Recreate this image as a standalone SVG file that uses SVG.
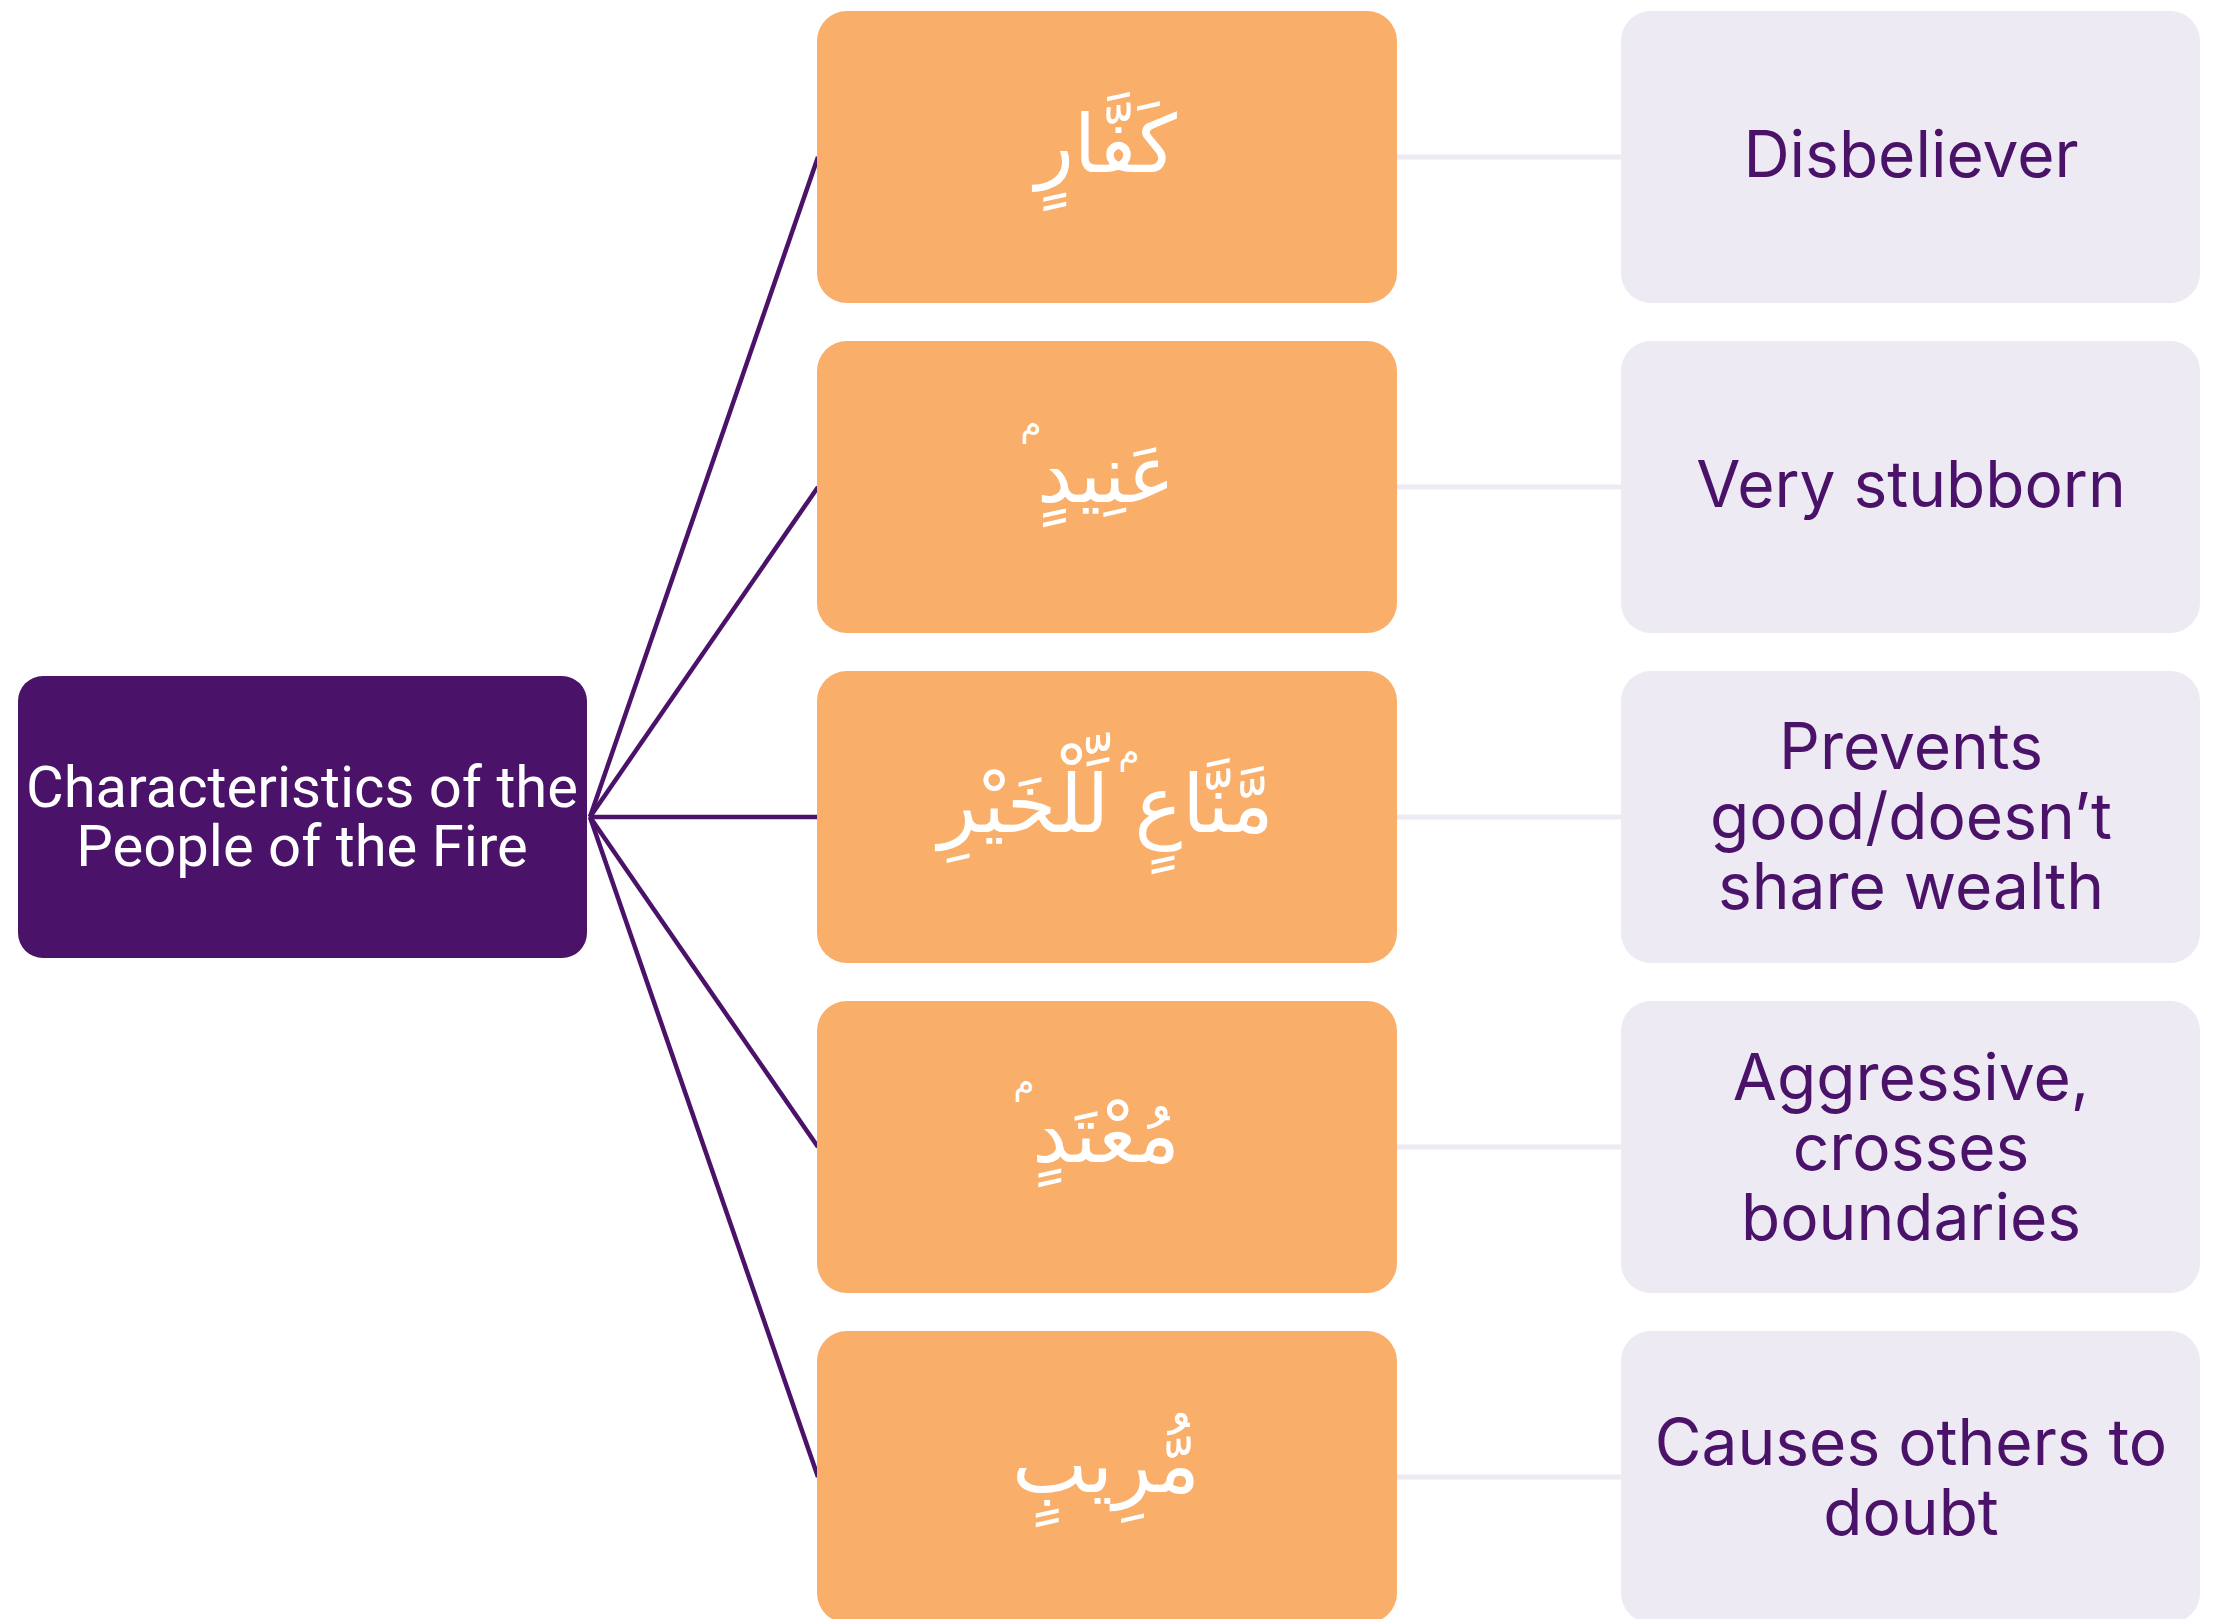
<svg xmlns="http://www.w3.org/2000/svg" width="2220" height="1619" viewBox="0 0 2220 1619">
<style>
.root{fill:#4A1268}
.ar{fill:#F9AE6A}
.en{fill:#EDEAF4}
.rt{font-family:Roboto,"Liberation Sans",sans-serif;font-size:58px;fill:#FFFFFF;text-anchor:middle}
.at{font-family:"DejaVu Sans","Noto Sans",sans-serif;font-size:80px;fill:#FFFFFF;text-anchor:middle}
.sm{font-family:"DejaVu Sans","Noto Sans",sans-serif;font-size:34px;fill:#FFFFFF;text-anchor:middle}
.et{font-family:Inter,"Liberation Sans",sans-serif;font-size:64px;fill:#4A1268;text-anchor:middle}
.c1{stroke:#4A1268;stroke-width:4.5;fill:none}
.c2{stroke:#EDEAF4;stroke-width:5;fill:none}
</style>
<rect width="2220" height="1619" fill="#FFFFFF"/>
<g id="connectors">
<line class="c1" x1="590" y1="817" x2="818" y2="157"/>
<line class="c1" x1="590" y1="817" x2="818" y2="487"/>
<line class="c1" x1="590" y1="817" x2="818" y2="817"/>
<line class="c1" x1="590" y1="817" x2="818" y2="1147"/>
<line class="c1" x1="590" y1="817" x2="818" y2="1477"/>
<line class="c2" x1="1396" y1="157" x2="1622" y2="157"/>
<line class="c2" x1="1396" y1="487" x2="1622" y2="487"/>
<line class="c2" x1="1396" y1="817" x2="1622" y2="817"/>
<line class="c2" x1="1396" y1="1147" x2="1622" y2="1147"/>
<line class="c2" x1="1396" y1="1477" x2="1622" y2="1477"/>
</g>
<g id="root">
<rect class="root" x="18" y="676" width="569" height="282" rx="25"/>
<text class="rt" x="302" y="807">Characteristics of the</text>
<text class="rt" x="302" y="866">People of the Fire</text>
</g>
<g id="ar1"><rect class="ar" x="817" y="11" width="580" height="292" rx="30"/><text class="at" x="1106" y="172" direction="rtl">كَفَّارٍ</text></g>
<g id="ar2"><rect class="ar" x="817" y="341" width="580" height="292" rx="30"/><text class="at" x="1106" y="502" direction="rtl">عَنِيدٍ</text><text class="sm" x="1031" y="436">م</text></g>
<g id="ar3"><rect class="ar" x="817" y="671" width="580" height="292" rx="30"/><text class="at" x="1106" y="832" direction="rtl">مَّنَّاعٍ لِّلْخَيْرِ</text><text class="sm" x="1129" y="764">م</text></g>
<g id="ar4"><rect class="ar" x="817" y="1001" width="580" height="292" rx="30"/><text class="at" x="1106" y="1162" direction="rtl">مُعْتَدٍ</text><text class="sm" x="1024" y="1094">م</text></g>
<g id="ar5"><rect class="ar" x="817" y="1331" width="580" height="292" rx="30"/><text class="at" x="1106" y="1492" direction="rtl">مُّرِيبٍ</text></g>
<g id="en1"><rect class="en" x="1621" y="11" width="579" height="292" rx="30"/><text class="et" x="1911" y="177">Disbeliever</text></g>
<g id="en2"><rect class="en" x="1621" y="341" width="579" height="292" rx="30"/><text class="et" x="1911" y="507">Very stubborn</text></g>
<g id="en3"><rect class="en" x="1621" y="671" width="579" height="292" rx="30"/><text class="et" x="1911" y="769">Prevents</text><text class="et" x="1911" y="839">good/doesn’t</text><text class="et" x="1911" y="909">share wealth</text></g>
<g id="en4"><rect class="en" x="1621" y="1001" width="579" height="292" rx="30"/><text class="et" x="1911" y="1100">Aggressive,</text><text class="et" x="1911" y="1170">crosses</text><text class="et" x="1911" y="1240">boundaries</text></g>
<g id="en5"><rect class="en" x="1621" y="1331" width="579" height="292" rx="30"/><text class="et" x="1911" y="1465">Causes others to</text><text class="et" x="1911" y="1535">doubt</text></g>
</svg>
